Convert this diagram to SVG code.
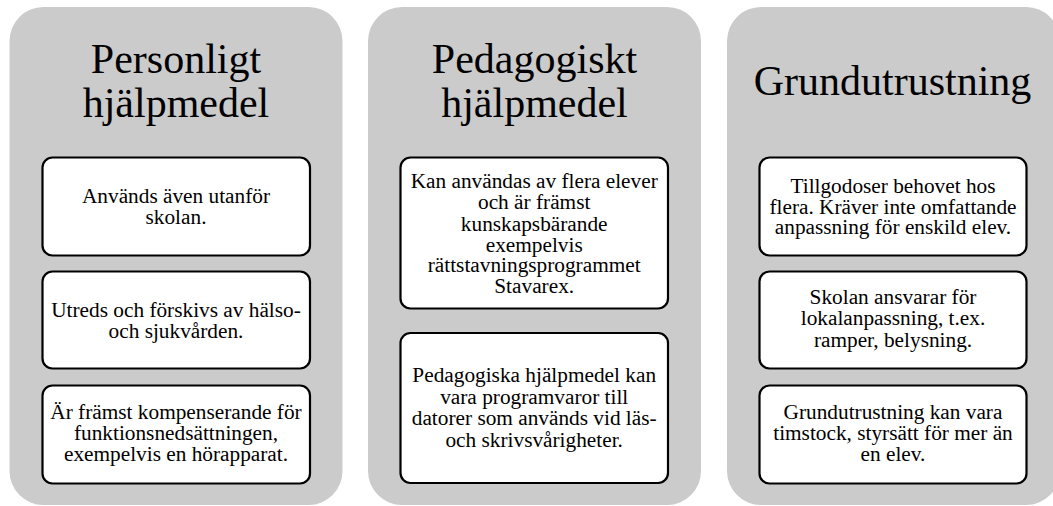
<svg xmlns="http://www.w3.org/2000/svg" width="1053" height="506" viewBox="0 0 1053 506">
<style>
.panel{fill:#cbcbcb;stroke:none}
.box{fill:#ffffff;stroke:#000000;stroke-width:2.2}
.title{font-family:"Liberation Serif","Times New Roman",serif;font-size:42px;fill:#000;text-anchor:middle}
.body{font-family:"Liberation Serif","Times New Roman",serif;font-size:21.3px;fill:#000;text-anchor:middle}
</style>
<rect width="1053" height="506" fill="#ffffff"/>
<g id="panel-personligt">
<rect class="panel" x="9.5" y="7" width="333" height="498" rx="34" ry="34"/>
<text class="title" x="176" y="73">Personligt</text>
<text class="title" x="176" y="117">hjälpmedel</text>
</g>
<g id="panel-pedagogiskt">
<rect class="panel" x="368" y="7" width="333" height="498" rx="34" ry="34"/>
<text class="title" x="534.5" y="73">Pedagogiskt</text>
<text class="title" x="534.5" y="117">hjälpmedel</text>
</g>
<g id="panel-grundutrustning">
<rect class="panel" x="727" y="7" width="333" height="498" rx="34" ry="34"/>
<text class="title" x="892.5" y="94.5">Grundutrustning</text>
</g>
<g id="p1-box1">
<rect class="box" x="42.5" y="157.5" width="267.5" height="98" rx="10" ry="10"/>
<text class="body" x="176" y="203">Används även utanför</text>
<text class="body" x="176" y="223.5">skolan.</text>
</g>
<g id="p1-box2">
<rect class="box" x="42.5" y="271.5" width="267.5" height="97" rx="10" ry="10"/>
<text class="body" x="176" y="316.5">Utreds och förskivs av hälso-</text>
<text class="body" x="176" y="338">och sjukvården.</text>
</g>
<g id="p1-box3">
<rect class="box" x="42.5" y="385.5" width="267.5" height="98" rx="10" ry="10"/>
<text class="body" x="176" y="418.5">Är främst kompenserande för</text>
<text class="body" x="176" y="439.5">funktionsnedsättningen,</text>
<text class="body" x="176" y="460.5">exempelvis en hörapparat.</text>
</g>
<g id="p2-box1">
<rect class="box" x="400.5" y="157.5" width="267.5" height="151" rx="10" ry="10"/>
<text class="body" x="534.2" y="188">Kan användas av flera elever</text>
<text class="body" x="534.2" y="209.3">och är främst</text>
<text class="body" x="534.2" y="230.6">kunskapsbärande</text>
<text class="body" x="534.2" y="251.9">exempelvis</text>
<text class="body" x="534.2" y="271.5">rättstavningsprogrammet</text>
<text class="body" x="534.2" y="293">Stavarex.</text>
</g>
<g id="p2-box2">
<rect class="box" x="400.5" y="333" width="267.5" height="150" rx="10" ry="10"/>
<text class="body" x="534.2" y="382">Pedagogiska hjälpmedel kan</text>
<text class="body" x="534.2" y="403.5">vara programvaror till</text>
<text class="body" x="534.2" y="425">datorer som används vid läs-</text>
<text class="body" x="534.2" y="446.5">och skrivsvårigheter.</text>
</g>
<g id="p3-box1">
<rect class="box" x="759.5" y="157.5" width="267" height="98" rx="10" ry="10"/>
<text class="body" x="893" y="193.3">Tillgodoser behovet hos</text>
<text class="body" x="893" y="213.8">flera. Kräver inte omfattande</text>
<text class="body" x="893" y="234.3">anpassning för enskild elev.</text>
</g>
<g id="p3-box2">
<rect class="box" x="759.5" y="271.5" width="267" height="97" rx="10" ry="10"/>
<text class="body" x="893" y="303.5">Skolan ansvarar för</text>
<text class="body" x="893" y="325">lokalanpassning, t.ex.</text>
<text class="body" x="893" y="346.5">ramper, belysning.</text>
</g>
<g id="p3-box3">
<rect class="box" x="759.5" y="385.5" width="267" height="98" rx="10" ry="10"/>
<text class="body" x="893" y="418.5">Grundutrustning kan vara</text>
<text class="body" x="893" y="439.5">timstock, styrsätt för mer än</text>
<text class="body" x="893" y="460.5">en elev.</text>
</g>
<g id="connectors"></g>
</svg>
